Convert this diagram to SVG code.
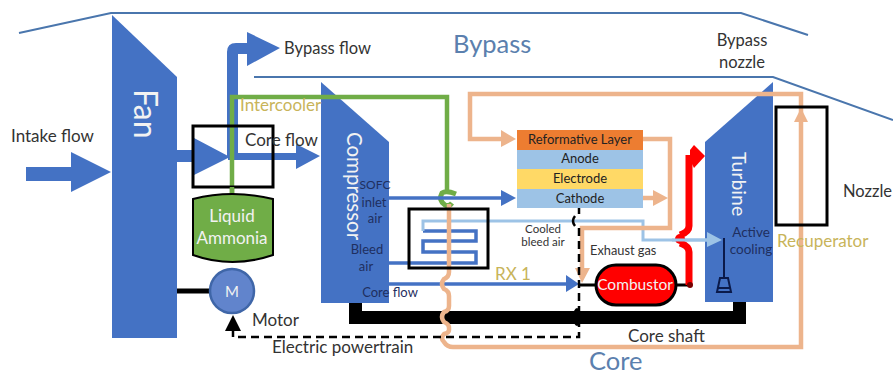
<svg xmlns="http://www.w3.org/2000/svg" width="893" height="376" viewBox="0 0 893 376">
<style>
text{font-family:Lato,"Open Sans","Liberation Sans",sans-serif;font-size:17px;fill:#333}
.m{text-anchor:middle}
.w{fill:#f2f2f2}
.d{fill:#1f2f5f;font-size:13px}
.g{fill:#c8b45a}
.b{fill:#5b80ae;font-size:25.5px}
.s{font-size:13px;fill:#222}
.hull{fill:none;stroke:#4a76ad;stroke-width:2}
.blue{fill:#4472c4}
.bl{fill:none;stroke:#4472c4;stroke-width:3.5}
.lb{fill:none;stroke:#9dc3e6;stroke-width:3}
.pe{fill:none;stroke:#edb48c;stroke-width:4.5}
.pf{fill:#edb48c}
.gr{fill:none;stroke:#70ad47;stroke-width:4.5}
.red{fill:none;stroke:#f00;stroke-width:7}
.k{fill:none;stroke:#000}
.box{fill:none;stroke:#000;stroke-width:3}
.dash{fill:none;stroke:#000;stroke-width:2.5;stroke-dasharray:8 5}
</style>
<g id="hull">
<path class="hull" d="M19 33L111 13H741L808 35"/>
<path class="hull" d="M254 77H773L893 120"/>
</g>
<g id="fan"><path class="blue" d="M112 15L177 77V338H112Z"/><text class="w" transform="translate(134,89) rotate(90)" style="font-size:32px">Fan</text></g>
<g id="compressor"><path class="blue" d="M321 82L389 142V303H321Z"/><text class="w" transform="translate(347,132) rotate(90)" style="font-size:20.5px">Compressor</text></g>
<g id="turbine"><path class="blue" d="M773 82V302H705V142Z"/><text class="w" transform="translate(732,152) rotate(90)" style="font-size:19.5px">Turbine</text></g>
<g id="fuelcell">
<rect x="517" y="130" width="126" height="20" fill="#ed7d31"/><rect x="517" y="150" width="126" height="19" fill="#9dc3e6"/><rect x="517" y="169" width="126" height="20" fill="#ffd966"/><rect x="517" y="189" width="126" height="19" fill="#9dc3e6"/>
<text class="m s" x="580" y="144">Reformative Layer</text><text class="m s" x="580" y="163">Anode</text><text class="m s" x="580" y="183">Electrode</text><text class="m s" x="580" y="203">Cathode</text>
</g>
<g id="connectors">
<path class="blue" d="M26 167H71V152L111 172L71 192V181H26Z"/>
<path class="blue" d="M177 150H194V138L230 157L194 175V162H177Z"/>
<path class="blue" d="M227 157V52Q227 43 236 43H247V32L280 48L247 66V54H238V157Z"/>
<path class="blue" d="M228 153H296V144L320 156L296 169V160H228Z"/>
<path class="gr" d="M232 194V97H447V190"/>
<path class="gr" style="stroke-width:5" d="M456 194Q446 190 442 193Q438 200 445 205Q449 207 452 203"/>
<path class="bl" d="M389 198H503"/><path class="blue" d="M501 190L516 198L501 206Z"/>
<path class="bl" d="M389 263H476V252H423V241H476V231H423"/>
<path class="lb" d="M423 231V221H643V240H708"/>
<path fill="#9dc3e6" d="M707 232L722 240L707 247Z"/>
<path class="bl" d="M389 284H568"/><path class="blue" d="M566 275L579 284L566 292Z"/>
<rect x="349" y="303" width="13" height="21"/><rect x="349" y="311" width="397" height="13"/><rect x="733" y="302" width="13" height="22"/>
<ellipse cx="577" cy="317" rx="4" ry="9"/>
<path class="pe" d="M449 204V272Q449 277 444 279Q440 284 444 289Q449 291 449 296V306Q449 311 444 312Q440 317 444 322Q449 324 449 328V330Q449 333 444 334Q440 338 444 342Q447 347 453 347H801V94H470V139H503"/>
<path class="pf" d="M501 130L516 139L501 147Z"/>
<path class="pf" d="M794 122L801 108L808 122Z"/>
<path class="pe" d="M643 139H670V228H582V270"/>
<path class="pf" d="M575 268H590L582 283Z"/>
<path class="pe" d="M643 198H655"/><path class="pf" d="M653 190L668 198L653 206Z"/>
<path class="k" stroke-width="2.5" d="M579 208V214M575 216Q571 221 575 226"/>
<path class="dash" d="M579 228V337H233V331"/>
<path d="M233 315L225 331H241Z"/>
<path class="k" stroke-width="5" d="M177 291H212"/>
<path class="k" stroke-width="3" d="M578 285H597M676 285H690"/>
<path class="red" d="M689 285V252Q689 246 680 243"/>
<path class="red" d="M689 155V226Q689 232 680 235"/>
<circle cx="680" cy="239" r="5" fill="#f00"/>
<path class="lb" d="M672 240H708"/>
<path fill="#f00" d="M690 150L694 145L705 156L694 168L690 160Z"/>
<path d="M686 155H694V160H686Z" fill="#f00"/>
<circle cx="690" cy="285" r="3" fill="#700"/>
<path stroke="#0b1a4a" stroke-width="2" fill="none" d="M724 238V278M720 278H728L731 292H717ZM718 288H730"/>
</g>
<g id="recuperator"><rect class="box" x="776" y="107" width="51" height="118"/></g>
<g id="intercooler-box"><rect class="box" x="193" y="126" width="80" height="61"/></g>
<g id="rx"><rect class="box" x="409" y="209" width="79" height="59"/></g>
<g id="ammonia"><path d="M232 187V194" stroke="#70ad47" stroke-width="4.5"/><path d="M193 199Q232 189 273 199V255Q232 269 193 255Z" fill="#70ad47" stroke="#000" stroke-width="2"/><text class="w m" x="232" y="222">Liquid</text><text class="w m" x="232" y="244">Ammonia</text></g>
<g id="motor"><circle cx="232" cy="291" r="22" fill="#6184cc" stroke="#3f66a8" stroke-width="2.5"/><text class="w m" x="232" y="297" style="font-size:15px">M</text></g>
<g id="combustor"><rect x="596" y="265" width="80" height="40" rx="20" fill="#f00" stroke="#000" stroke-width="3"/><text class="w m" x="635" y="290" style="font-size:15.5px">Combustor</text></g>
<g id="labels">
<text x="11" y="142">Intake flow</text>
<text x="284" y="54" style="font-size:16.5px">Bypass flow</text>
<text x="245" y="146">Core flow</text>
<text class="g" x="240" y="111">Intercooler</text>
<text class="b" x="453" y="53">Bypass</text>
<text class="m" x="742" y="46" style="font-size:16.5px">Bypass</text><text class="m" x="742" y="68" style="font-size:16.5px">nozzle</text>
<text x="843" y="197" style="font-size:16.5px">Nozzle</text>
<text class="g" x="777" y="247">Recuperator</text>
<text class="d m" x="375" y="189" style="font-size:12px">SOFC</text><text class="d m" x="374" y="207">inlet</text><text class="d m" x="375" y="223">air</text>
<text class="d m" x="367" y="254">Bleed</text><text class="d m" x="366" y="271">air</text>
<text class="d m" x="390" y="297">Core flow</text>
<text class="g" x="495" y="280">RX 1</text>
<text class="m" x="543" y="233" style="font-size:11.5px">Cooled</text><text class="m" x="543" y="246" style="font-size:11.5px">bleed air</text>
<text x="590" y="255" style="font-size:12.8px">Exhaust gas</text>
<text class="d m" x="751" y="237" style="font-size:13.5px">Active</text><text class="d m" x="751" y="254" style="font-size:13.5px">cooling</text>
<text x="252" y="326">Motor</text>
<text x="272" y="353">Electric powertrain</text>
<text x="628" y="342">Core shaft</text>
<text class="b" x="589" y="370">Core</text>
</g>
</svg>
